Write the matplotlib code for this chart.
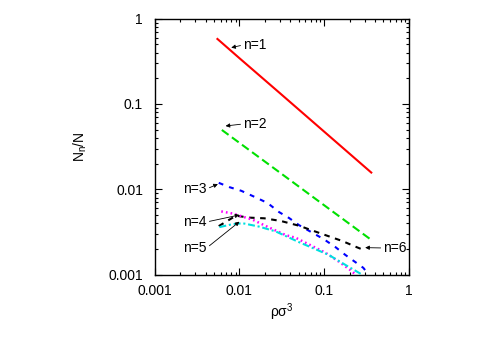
import matplotlib
matplotlib.use("Agg")
import matplotlib.pyplot as plt
from matplotlib.ticker import LogLocator, NullFormatter, FixedFormatter, FixedLocator

plt.rcParams["font.family"] = ["Liberation Sans", "DejaVu Sans"]
plt.rcParams["mathtext.fontset"] = "custom"
plt.rcParams["mathtext.rm"] = "Liberation Sans"
plt.rcParams["mathtext.it"] = "Liberation Sans:italic"
plt.rcParams["font.size"] = 10
plt.rcParams["lines.scale_dashes"] = False

# cluster size fractions
x_n1 = [0.0055, 0.01, 0.03, 0.1, 0.36]
y_n1 = [0.578, 0.344, 0.134, 0.0474, 0.0157]

x_n2 = [0.0062, 0.01, 0.03, 0.1, 0.36]
y_n2 = [0.0496, 0.035, 0.0157, 0.0065, 0.00255]

x_n3 = [0.0057, 0.0076, 0.0105, 0.0157, 0.0215, 0.0294, 0.0386, 0.0505, 0.099, 0.136, 0.178, 0.29, 0.335]
y_n3 = [0.0119, 0.0106, 0.0096, 0.0080, 0.0069, 0.0054, 0.0046, 0.0038, 0.0026, 0.0021, 0.0017, 0.0012, 0.0010]

x_n4 = [0.0061, 0.0083, 0.0143, 0.0206, 0.0353, 0.0462, 0.104, 0.149, 0.204, 0.235]
y_n4 = [0.0055, 0.0052, 0.0044, 0.0037, 0.0029, 0.0027, 0.0018, 0.00142, 0.00113, 0.0010]

x_n5 = [0.0058, 0.0083, 0.0109, 0.0171, 0.0269, 0.0505, 0.1135, 0.178, 0.28]
y_n5 = [0.0036, 0.0039, 0.0040, 0.00365, 0.0032, 0.0024, 0.0017, 0.0013, 0.0010]

x_n6 = [0.0057, 0.0091, 0.0131, 0.0196, 0.0308, 0.0505, 0.066, 0.108, 0.163, 0.244, 0.29]
y_n6 = [0.0037, 0.0049, 0.00465, 0.00457, 0.00425, 0.00374, 0.0034, 0.00286, 0.00248, 0.00209, 0.00195]

tick_vals = [0.001, 0.01, 0.1, 1]
tick_labels = ["0.001", "0.01", "0.1", "1"]

fig = plt.figure(figsize=(4.85, 3.39), dpi=100)
ax = fig.add_axes([0.319, 0.19, 0.524, 0.755])

ax.plot(x_n1, y_n1, color="#ff0000", lw=1.5, ls="-")
ax.plot(x_n2, y_n2, color="#00e000", lw=1.5, ls=(0, (6, 3)))
ax.plot(x_n3, y_n3, color="#0000ff", lw=1.5, ls=(0, (3.5, 4.5)))
ax.plot(x_n6, y_n6, color="#000000", lw=1.5, ls=(0, (4, 4)))
ax.plot(x_n4, y_n4, color="#ff00ff", lw=1.8, ls=(0, (1.2, 2.2)))
ax.plot(x_n5, y_n5, color="#00e0e0", lw=1.5, ls=(0, (5, 2, 1.5, 2)))

ax.set_xscale("log")
ax.set_yscale("log")
ax.set_xlim(0.001, 1)
ax.set_ylim(0.001, 1)

for axis in (ax.xaxis, ax.yaxis):
    axis.set_major_locator(FixedLocator(tick_vals))
    axis.set_major_formatter(FixedFormatter(tick_labels))
    axis.set_minor_locator(LogLocator(base=10, subs=range(2, 10)))
    axis.set_minor_formatter(NullFormatter())

ax.tick_params(which="both", direction="in", top=True, right=True, width=0.8)
ax.tick_params(which="major", length=5)
ax.tick_params(which="minor", length=2.5)
ax.tick_params(axis="x", pad=7)
ax.tick_params(axis="y", pad=8.5)
for s in ax.spines.values():
    s.set_linewidth(1.0)

ax.set_xlabel(r"ρσ$^3$")
ax.set_ylabel(r"N$_\mathrm{n}$/N")
ax.xaxis.set_label_coords(0.5, -0.105)
ax.yaxis.set_label_coords(-0.26, 0.5)

arrow = dict(arrowstyle="-|>", color="black", lw=0.6, mutation_scale=6,
             shrinkA=0, shrinkB=0)

notes = [
    ("n=1", (0.008, 0.457), (0.0111, 0.492), "left"),
    ("n=2", (0.00686, 0.0552), (0.0111, 0.0583), "left"),
    ("n=3", (0.00557, 0.0115), (0.0041, 0.0101), "right"),
    ("n=4", (0.01, 0.0050), (0.0041, 0.00414), "right"),
    ("n=5", (0.01, 0.00417), (0.0041, 0.00205), "right"),
    ("n=6", (0.305, 0.00207), (0.501, 0.00205), "left"),
]
for label, tip, pos, ha in notes:
    rel = (0, 0.5) if ha == "left" else (1, 0.5)
    ax.annotate(label, xy=tip, xytext=pos, ha=ha, va="center",
                arrowprops=dict(arrow, relpos=rel))

fig.savefig("out.png", dpi=100)
